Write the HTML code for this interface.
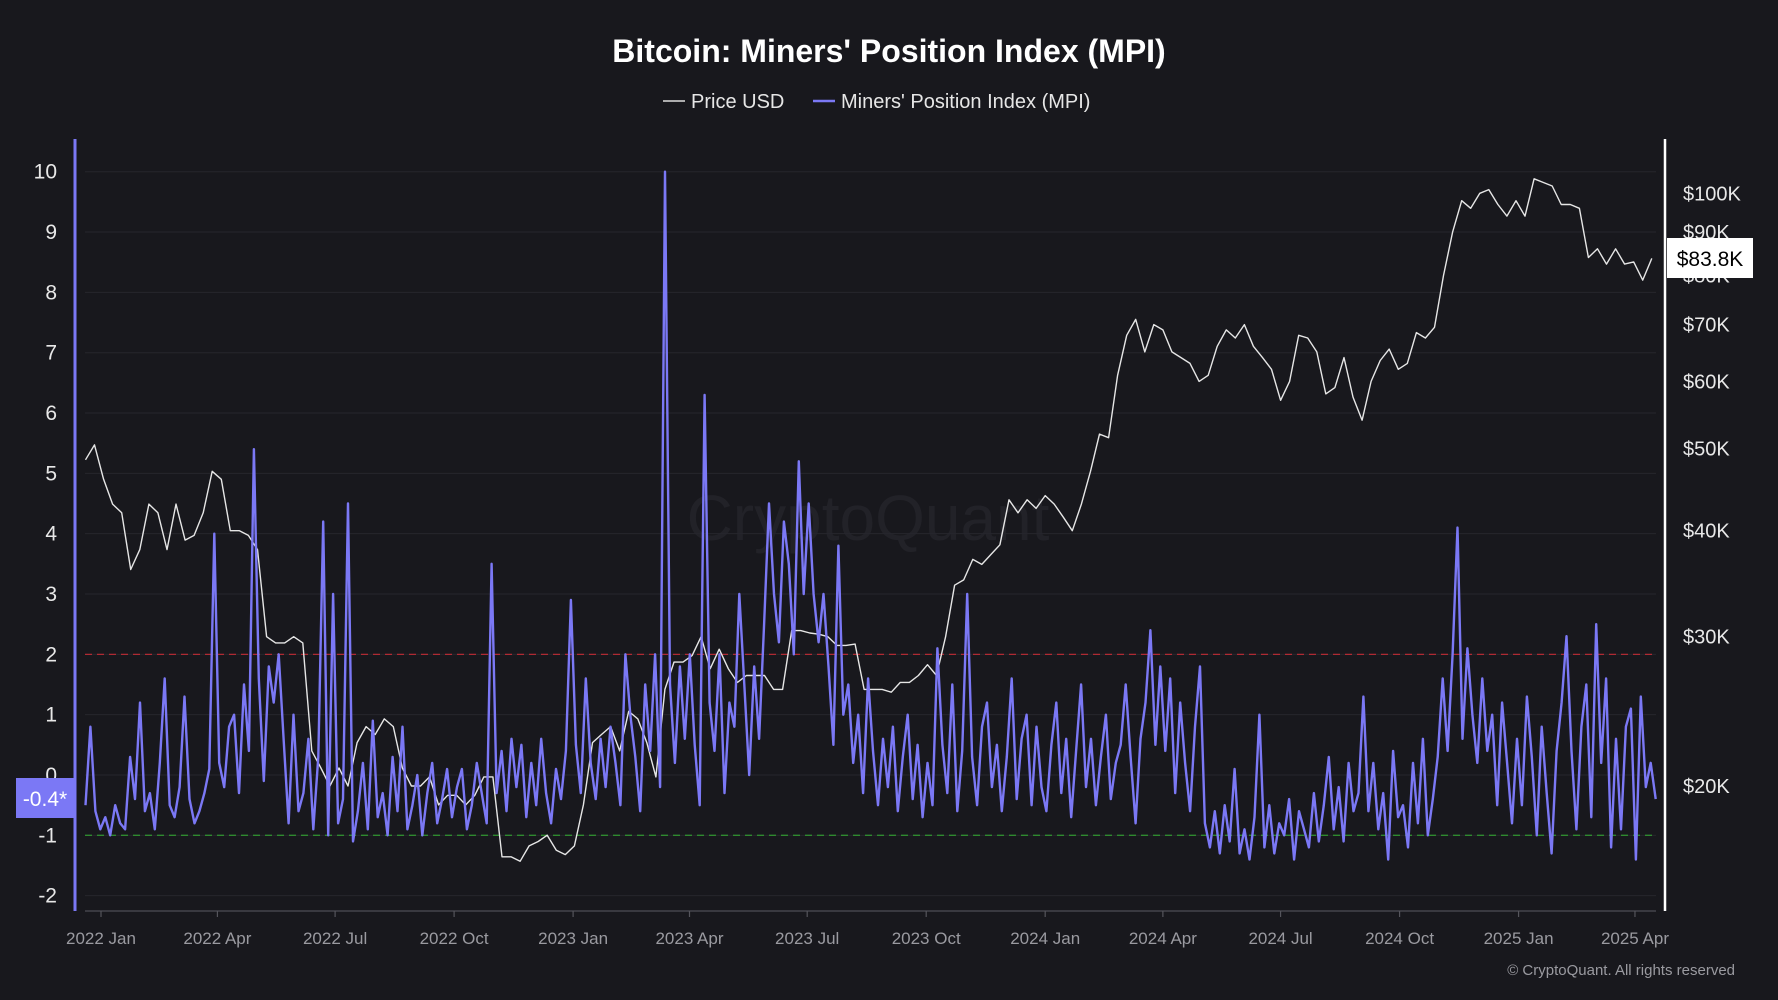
<!DOCTYPE html>
<html><head><meta charset="utf-8">
<style>
html,body{margin:0;padding:0;background:#18181d;}
body{width:1778px;height:1000px;overflow:hidden;font-family:"Liberation Sans",sans-serif;}
svg{display:block}
</style></head>
<body>
<svg id="chart" width="1778" height="1000" viewBox="0 0 1778 1000" xmlns="http://www.w3.org/2000/svg">
<rect width="1778" height="1000" fill="#18181d"/>
<text x="889" y="62" text-anchor="middle" fill="#ffffff" font-size="32" font-weight="bold">Bitcoin: Miners' Position Index (MPI)</text>
<g>
<g><line x1="663" y1="101" x2="685" y2="101" stroke="#dddddd" stroke-width="1.5"/><text x="691" y="108" fill="#e6e6e6" font-size="20">Price USD</text></g>
<g><line x1="813" y1="101" x2="835" y2="101" stroke="#7b78f5" stroke-width="2.5"/><text x="841" y="108" fill="#e6e6e6" font-size="20">Miners' Position Index (MPI)</text></g>
</g>
<text x="868" y="540" text-anchor="middle" fill="#222228" font-size="64">CryptoQuant</text>
<g id="grid"></g>
<g id="plot"></g>
<g id="axes"></g>
<text x="1735" y="975" text-anchor="end" fill="#9a9aa0" font-size="15">© CryptoQuant. All rights reserved</text>
</svg>
<script>
const startDate = "2021-12-20";
const endDate = "2025-04-17";
const leftTicks = [10,9,8,7,6,5,4,3,2,1,0,-1,-2];
const rightTicks = [100,90,80,70,60,50,40,30,20];
const rightTickLabels = ["$100K","$90K","$80K","$70K","$60K","$50K","$40K","$30K","$20K"];
const xTickDates = ["2022-01-01","2022-04-01","2022-07-01","2022-10-01","2023-01-01","2023-04-01","2023-07-01","2023-10-01","2024-01-01","2024-04-01","2024-07-01","2024-10-01","2025-01-01","2025-04-01"];
const xTickLabels = ["2022 Jan","2022 Apr","2022 Jul","2022 Oct","2023 Jan","2023 Apr","2023 Jul","2023 Oct","2024 Jan","2024 Apr","2024 Jul","2024 Oct","2025 Jan","2025 Apr"];
const lastPriceLabel = "$83.8K";
const lastMpiLabel = "-0.4*";
// weekly price (thousand USD) starting 2021-12-20
const priceValues = [48.5,50.5,
46,43,42,36,38, 43,42,38,43, 39,39.5,42,47, 46,40,40,39.5, 38,30,29.5,29.5,30, 29.5,22,21,20, 21,20,22.5,23.5, 23,24,23.5,21,20, 20,20.5,19,19.5, 19.5,19,19.5,20.5,20.5, 16.5,16.5,16.3,17, 17.2,17.5,16.8,16.6,
17,19,22.5,23,23.5, 22,24.5,24,22.5, 20.5,26,28,28, 28.5,30,27.5,29, 27.5,26.5,27,27,27, 26,26,30.5,30.5, 30.3,30.2,30,29.3,29.3, 29.4,26,26,26, 25.8,26.5,26.5,27, 27.8,27,30,34.5,35, 37,36.5,37.5,38.5, 43.5,42,43.5,42.5,
44,43,41.5,40,43, 47,52,51.5,61, 68,71,65,70, 69,65,64,63,60, 61,66,69,67.5, 70,66,64,62, 57,60,68,67.5,65, 58,59,64,57.5, 54,60,63.5,65.5,62, 63,68.5,67.5,69.5, 80,90,98,96, 100,101,97,94,98,
94,104,103,102, 97,97,96,84, 86,82.5,86,82.5,83, 79,83.8];
// MPI values evenly spaced from startDate to endDate
const mpiValues = [-0.5,0.8,
-0.6,-0.9,-0.7,-1,-0.5,-0.8,-0.9,0.3,
-0.4,1.2,-0.6,-0.3,-0.9,0.2,1.6,-0.5,
-0.7,-0.2,1.3,-0.4,-0.8,-0.6,-0.3,0.1,
4.0,0.2,-0.2,0.8,1.0,-0.3,1.5,0.4,
5.4,1.6,-0.1,1.8,1.2,2.0,0.6,-0.8,
1.0,-0.6,-0.3,0.6,-0.9,0.3,4.2,-1,
3.0,-0.8,-0.4,4.5,-1.1,-0.6,0.2,-0.9,
0.9,-0.7,-0.3,-1,0.3,-0.6,0.8,-0.9,
-0.5,0,-1,-0.3,0.2,-0.8,-0.4,0.1,
-0.7,-0.2,0.1,-0.9,-0.5,0.2,-0.3,-0.8,
3.5,-0.3,0.4,-0.6,0.6,-0.2,0.5,-0.7,
0.2,-0.5,0.6,-0.3,-0.8,0.1,-0.4,0.4,
2.9,0.5,-0.3,1.6,0.2,-0.4,0.6,-0.2,
0.8,0.2,-0.5,2.0,1.0,0.3,-0.6,1.5,
0.4,2.0,-0.2,10,1.5,0.2,1.8,0.6,
2.0,0.5,-0.5,6.3,1.2,0.4,2.0,-0.3,
1.2,0.8,3.0,1.5,0,1.8,0.6,2.5,
4.5,3.0,2.2,4.2,3.5,2.0,5.2,3.0,
4.5,3.0,2.2,3.0,1.8,0.5,3.8,1.0,
1.5,0.2,1.0,-0.3,1.6,0.4,-0.5,0.6,
-0.2,0.8,-0.6,0.3,1.0,-0.4,0.5,-0.7,
0.2,-0.5,2.1,0.5,-0.3,1.5,-0.6,0.4,
3.0,0.3,-0.5,0.8,1.2,-0.2,0.5,-0.6,
0.3,1.6,-0.4,0.6,1.0,-0.5,0.8,-0.2,
-0.6,0.5,1.2,-0.3,0.6,-0.7,0.4,1.5,
-0.2,0.6,-0.5,0.3,1.0,-0.4,0.2,0.5,
1.5,0.3,-0.8,0.6,1.2,2.4,0.5,1.8,
0.4,1.6,-0.3,1.2,0.2,-0.6,0.8,1.8,
-0.8,-1.2,-0.6,-1.3,-0.5,-1.1,0.1,-1.3,
-0.9,-1.4,-0.7,1.0,-1.2,-0.5,-1.3,-0.8,
-1.0,-0.4,-1.4,-0.6,-0.9,-1.2,-0.3,-1.1,
-0.5,0.3,-0.9,-0.2,-1.1,0.2,-0.6,-0.3,
1.3,-0.6,0.2,-0.9,-0.3,-1.4,0.4,-0.7,
-0.5,-1.2,0.2,-0.8,0.6,-1.0,-0.4,0.3,
1.6,0.4,2.0,4.1,0.6,2.1,1.0,0.2,
1.6,0.4,1.0,-0.5,1.2,0.2,-0.8,0.6,
-0.5,1.3,0.3,-1.0,0.8,-0.3,-1.3,0.4,
1.2,2.3,0.4,-0.9,0.8,1.5,-0.7,2.5,
0.2,1.6,-1.2,0.6,-0.9,0.8,1.1,-1.4,
1.3,-0.2,0.2,-0.4];

const NS="http://www.w3.org/2000/svg";
const X0=101, DAY_PX=1.2934, PLOT_L=85, PLOT_R=1656, AX_Y=911;
const refT=Date.parse("2022-01-01");
function dayOf(s){return (Date.parse(s)-refT)/86400000;}
function xScale(day){return X0+day*DAY_PX;}
function yLeft(v){return 775-v*60.33;}
function yRight(k){return 786-Math.log10(k/20)*848;}
function mk(tag,attrs,parent){const e=document.createElementNS(NS,tag);for(const k in attrs)e.setAttribute(k,attrs[k]);parent.appendChild(e);return e;}
const grid=document.getElementById('grid'),plot=document.getElementById('plot'),axes=document.getElementById('axes');

leftTicks.forEach(v=>{
  const g=mk('line',{x1:PLOT_L,x2:PLOT_R,y1:yLeft(v),y2:yLeft(v),stroke:'#26262d','stroke-width':1},grid);
  
  
  const t=mk('text',{x:57,y:yLeft(v)+7,'text-anchor':'end',fill:'#e8e8e8','font-size':21},axes);
  t.textContent=String(v);
  
  
});
rightTicks.forEach((k,i)=>{
  const t=mk('text',{x:1683,y:yRight(k)+7,fill:'#e8e8e8','font-size':20},axes);
  t.textContent=rightTickLabels[i];
  
  
});
// threshold lines
let th=mk('line',{x1:PLOT_L,x2:PLOT_R,y1:yLeft(2),y2:yLeft(2),stroke:'#b02a33','stroke-width':1.3,'stroke-dasharray':'7,5'},grid);


th=mk('line',{x1:PLOT_L,x2:PLOT_R,y1:yLeft(-1),y2:yLeft(-1),stroke:'#2f8a2f','stroke-width':1.3,'stroke-dasharray':'7,5'},grid);



// price line
const pStart=dayOf(startDate);
let d='';
priceValues.forEach((p,i)=>{d+=(i?'L':'M')+xScale(pStart+i*7).toFixed(1)+','+yRight(p).toFixed(1);});
const pl=mk('path',{d:d,fill:'none',stroke:'#e6e6e6','stroke-width':1.4,'stroke-linejoin':'round'},plot);



// mpi line
const span=dayOf(endDate)-pStart;
d='';
mpiValues.forEach((v,i)=>{d+=(i?'L':'M')+xScale(pStart+i*span/(mpiValues.length-1)).toFixed(1)+','+yLeft(v).toFixed(1);});
const ml=mk('path',{d:d,fill:'none',stroke:'#7b78f5','stroke-width':2.4,'stroke-linejoin':'round'},plot);



// axes lines
let a=mk('line',{x1:75,x2:75,y1:139,y2:911,stroke:'#7b78f5','stroke-width':3},axes);


a=mk('line',{x1:1665,x2:1665,y1:139,y2:911,stroke:'#ffffff','stroke-width':2.5},axes);


a=mk('line',{x1:PLOT_L,x2:PLOT_R,y1:AX_Y,y2:AX_Y,stroke:'#44444c','stroke-width':1.5},axes);


xTickDates.forEach((s,i)=>{
  const x=xScale(dayOf(s));
  const tk=mk('line',{x1:x,x2:x,y1:AX_Y,y2:AX_Y+6,stroke:'#55555c','stroke-width':1.2},axes);
  
  
  const t=mk('text',{x:x,y:944,'text-anchor':'middle',fill:'#9a9aa0','font-size':17},axes);
  t.textContent=xTickLabels[i];
  
  
});
// last value badges
const lm=mk('g',{},axes);


mk('rect',{x:16,y:778,width:58,height:40,fill:'#7b78f5'},lm);
let lt=mk('text',{x:45,y:806,'text-anchor':'middle',fill:'#ffffff','font-size':21},lm);
lt.textContent=lastMpiLabel;
const lp=mk('g',{},axes);


mk('rect',{x:1667,y:238,width:86,height:40,fill:'#ffffff'},lp);
lt=mk('text',{x:1710,y:266,'text-anchor':'middle',fill:'#000000','font-size':21},lp);
lt.textContent=lastPriceLabel;
</script>
</body></html>
